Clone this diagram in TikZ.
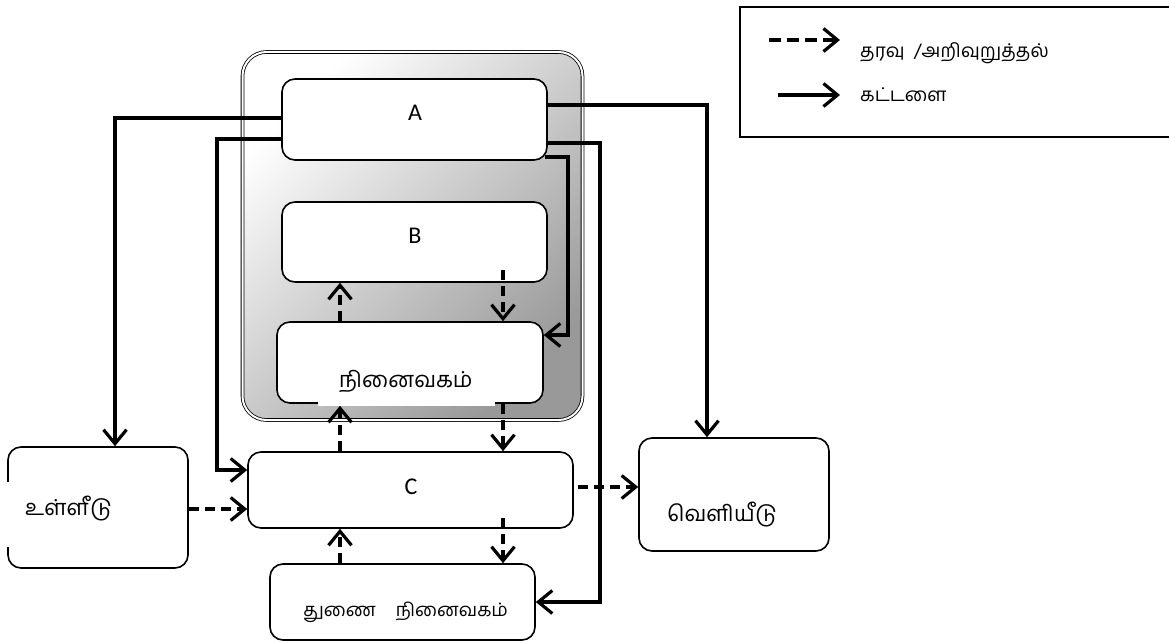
\documentclass[tikz,border=0pt]{standalone}
\usepackage{fontspec}
\setmainfont{Carlito}
\newfontfamily\tamil[Script=Tamil]{Hind Madurai}
\usetikzlibrary{arrows.meta,calc}
\begin{document}
\begin{tikzpicture}[x=1pt,y=-1pt,
  box/.style={draw, line width=1.6pt, rounded corners=13pt, fill=white, inner sep=0pt},
  tipv/.style={-{Straight Barb[length=14pt,width=23pt,line width=3.2pt]}},
  cmd/.style={line width=3.6pt, tipv},
  dat/.style={line width=3.6pt, dash pattern=on 10pt off 6pt, tipv},
  tam/.style={font=\tamil\fontsize{19}{22}\selectfont, inner sep=0pt, anchor=west},
  tamb/.style={font=\tamil\fontsize{22}{26}\selectfont, inner sep=0pt, anchor=west},
  lat/.style={font=\fontsize{24}{28}\selectfont, inner sep=0pt}]
\useasboundingbox (0,0) rectangle (1169,642);

% memory unit container
\node[draw, double=white, double distance=2pt, line width=0.8pt, rounded corners=24pt,
      top color=white, bottom color=black!40, shading angle=45,
      minimum width=340pt, minimum height=368pt, inner sep=0pt] (unit) at (412.5,236) {};

% boxes
\node[box, minimum width=265pt, minimum height=81pt] (A) at (414.5,119.5) {};
\node[box, minimum width=265pt, minimum height=80pt] (B) at (414.5,242) {};
\node[box, minimum width=266pt, minimum height=81pt] (M) at (410,362.5) {};
\fill[white] (318,395) rectangle (495,406);
\node[box, minimum width=325pt, minimum height=76pt] (C) at (410.5,490) {};
\node[box, minimum width=265pt, minimum height=76pt] (S) at (402.5,602) {};
\node[box, minimum width=180pt, minimum height=121pt] (In) at (98,507.5) {};
\fill[white] (4,482) rectangle (12,547);
\node[box, minimum width=190pt, minimum height=113pt] (Out) at (734,494.5) {};

% labels
\node[lat] (lA) at (415,113) {A};
\node[lat] (lB) at (415,236) {B};
\node[lat] (lC) at (411,487) {C};
\node[tamb] (tM) at (339,381) {நினைவகம்};
\node[tam, font=\tamil\fontsize{18.5}{21}\selectfont] (tS) at (303,612) {துணை\hspace{20pt}நினைவகம்};
\node[tamb] (tIn) at (25,509) {உள்ளீடு};
\node[tamb] (tOut) at (667,515) {வெளியீடு};

% helper coordinates
\coordinate (k1) at (115,118);
\coordinate (k2) at (217,139);
\coordinate (k3) at (217,470);
\coordinate (k4) at (707,105);
\coordinate (k5) at (600,143);
\coordinate (k6) at (600,602);
\coordinate (k7) at (568,157);
\coordinate (k8) at (568,335);
\coordinate (d1) at (340,0);
\coordinate (d2) at (503,0);
\coordinate (d2b) at (503,270);
\coordinate (d2c) at (503,518);
\coordinate (e1) at (0,509);
\coordinate (e2) at (578,487);

% command (solid) connectors
\draw[cmd] (A.west |- k1) -| (In.north -| k1);
\draw[cmd] (A.west |- k2) -| (k3) -- (C.west |- k3);
\draw[cmd] (A.east |- k4) -| (Out.north -| k4);
\draw[cmd] (A.east |- k5) -| (k6) -- (S.east |- k6);
\draw[cmd] ([xshift=-3pt]A.east |- k7) -| (k8) -- (M.east |- k8);

% data (dashed) connectors
\draw[dat] (M.north -| d1) -- (B.south -| d1);
\draw[dat] (d2b) -- (M.north -| d2);
\draw[dat] (C.north -| d1) -- ([yshift=-2pt]M.south -| d1);
\draw[dat] (M.south -| d2) -- (C.north -| d2);
\draw[dat] (S.north -| d1) -- (C.south -| d1);
\draw[dat] (d2c) -- (S.north -| d2);
\draw[dat] (In.east |- e1) -- (C.west |- e1);
\draw[dat] (e2) -- (Out.west |- e2);

% legend
\draw[line width=1.5pt] (1172,7) -- (740,7) -- (740,137) -- (1172,137);
\coordinate (g1s) at (769,40);
\coordinate (g1e) at (840,40);
\coordinate (g2s) at (778,95);
\coordinate (g2e) at (840,95);
\draw[line width=4pt, dash pattern=on 12pt off 6pt, tipv] (g1s) -- (g1e);
\draw[line width=4pt, tipv] (g2s) -- (g2e);
\node[tam] (lg1) at (860,53) {தரவு \ /அறிவுறுத்தல்};
\node[tam] (lg2) at (860,95) {கட்டளை};
\end{tikzpicture}
\end{document}
